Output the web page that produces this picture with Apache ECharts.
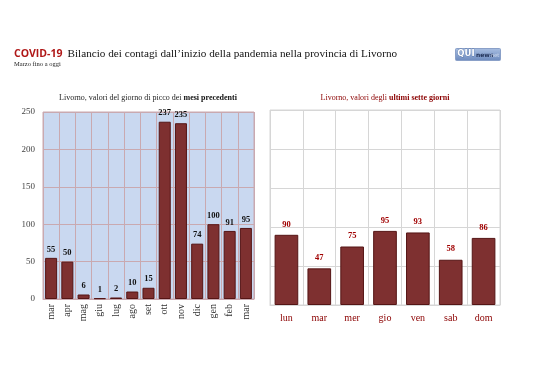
<!DOCTYPE html>
<html><head><meta charset="utf-8">
<script src="https://cdn.jsdelivr.net/npm/echarts@6/dist/echarts.min.js"></script>
<style>html,body{margin:0;padding:0;background:#fff}#c{width:538px;height:380px}</style>
</head><body><div id="c"></div>
<script>
const monthCats = ['mar','apr','mag','giu','lug','ago','set','ott','nov','dic','gen','feb','mar'];
const monthVals = [55,50,6,1,2,10,15,237,235,74,100,91,95];
const dayCats = ['lun','mar','mer','gio','ven','sab','dom'];
const dayVals = [90,47,75,95,93,58,86];
const yTicks = [0,50,100,150,200,250];

const serif = '"Liberation Serif", "DejaVu Serif", serif';
const chart = echarts.init(document.getElementById('c'), null, {renderer:'canvas'});
const barStyle = {color:'#7e3030', borderColor:'#551515', borderWidth:1};
chart.setOption({
  animation:false,
  backgroundColor:'#fff',
  title:[
    {text:'{a|COVID-19} {b|Bilancio dei contagi dall\u2019inizio della pandemia nella provincia di Livorno}', left:14, top:45, padding:0,
     textStyle:{fontWeight:'normal', rich:{a:{fontFamily:'"Open Sans", sans-serif', fontWeight:'bold', fontSize:10.5, color:'#b01818'}, b:{fontFamily:serif, fontWeight:'normal', fontSize:11.2, color:'#111'}}}},
    {text:'Marzo fino a oggi', left:14, top:61, padding:0, textStyle:{fontFamily:serif, fontSize:6.5, fontWeight:'normal', color:'#222'}},
    {text:'{a|Livorno, valori del giorno di picco dei }{b|mesi precedenti}', left:148, top:94, padding:0, textAlign:'center',
     textStyle:{fontWeight:'normal', rich:{a:{fontFamily:serif, fontWeight:'normal', fontSize:8, color:'#222'}, b:{fontFamily:serif, fontSize:8, fontWeight:'bold', color:'#111'}}}},
    {text:'{a|Livorno, valori degli }{b|ultimi sette giorni}', left:385, top:94, padding:0, textAlign:'center',
     textStyle:{fontWeight:'normal', rich:{a:{fontFamily:serif, fontWeight:'normal', fontSize:8, color:'#8b0000'}, b:{fontFamily:serif, fontSize:8, fontWeight:'bold', color:'#8b0000'}}}}
  ],
  grid:[
    {left:43, right:284, top:112, bottom:81, show:true, backgroundColor:'#c9d8f0', borderColor:'#c9a9b0', borderWidth:1},
    {left:270, right:38, top:110, bottom:75, show:true, backgroundColor:'#fff', borderColor:'#d6d6d6', borderWidth:1}
  ],
  xAxis:[
    {type:'category', gridIndex:0, data:monthCats, axisTick:{show:false},
     axisLine:{lineStyle:{color:'#c9a9b0'}},
     splitLine:{show:true, lineStyle:{color:'#c9a9b0', width:1}},
     axisLabel:{rotate:90, fontFamily:serif, fontSize:10, color:'#333', margin:5, interval:0}},
    {type:'category', gridIndex:1, data:dayCats, axisTick:{show:false},
     axisLine:{lineStyle:{color:'#d6d6d6'}},
     splitLine:{show:true, lineStyle:{color:'#d6d6d6', width:1}},
     axisLabel:{fontFamily:serif, fontSize:10, color:'#8b0000', margin:8, interval:0}}
  ],
  yAxis:[
    {type:'value', gridIndex:0, min:yTicks[0], max:yTicks[yTicks.length-1], interval:50,
     axisLine:{show:false}, axisTick:{show:false},
     splitLine:{lineStyle:{color:'#c9a9b0'}},
     axisLabel:{fontFamily:serif, fontSize:9, color:'#444', margin:8}},
    {type:'value', gridIndex:1, min:yTicks[0], max:yTicks[yTicks.length-1], interval:50,
     axisLine:{show:false}, axisTick:{show:false},
     splitLine:{lineStyle:{color:'#d6d6d6'}},
     axisLabel:{show:false}}
  ],
  series:[
    {type:'bar', xAxisIndex:0, yAxisIndex:0, data:monthVals, barCategoryGap:'26%', itemStyle:barStyle,
     label:{show:true, position:'top', distance:4, fontFamily:serif, fontWeight:'bold', fontSize:8.5, color:'#111'}},
    {type:'bar', xAxisIndex:1, yAxisIndex:1, data:dayVals, barCategoryGap:'28%', itemStyle:barStyle,
     label:{show:true, position:'top', distance:6, fontFamily:serif, fontWeight:'bold', fontSize:8.5, color:'#a00000'}}
  ],
  graphic:[
    {type:'rect', left:455, top:48, shape:{width:45, height:12, r:1},
     style:{fill:new echarts.graphic.LinearGradient(0,0,0,1,[{offset:0,color:'#a9bfe2'},{offset:1,color:'#6b89bd'}]), stroke:'#8aa0c8'}},
    {type:'text', left:457, top:49.5, style:{text:'QUI', fontFamily:'"DejaVu Sans", sans-serif', fontWeight:'bold', fontSize:8.5, fill:'#fff', stroke:'#3a5a90', lineWidth:0.5}},
    {type:'text', left:476, top:52, style:{text:'news', fontFamily:'"DejaVu Sans", sans-serif', fontWeight:'bold', fontSize:6, fill:'#1f2f55'}},
    {type:'text', left:491, top:53, style:{text:'net', fontFamily:'"DejaVu Sans", sans-serif', fontSize:5, fill:'#d8e2f2'}}
  ]
});
</script></body></html>
